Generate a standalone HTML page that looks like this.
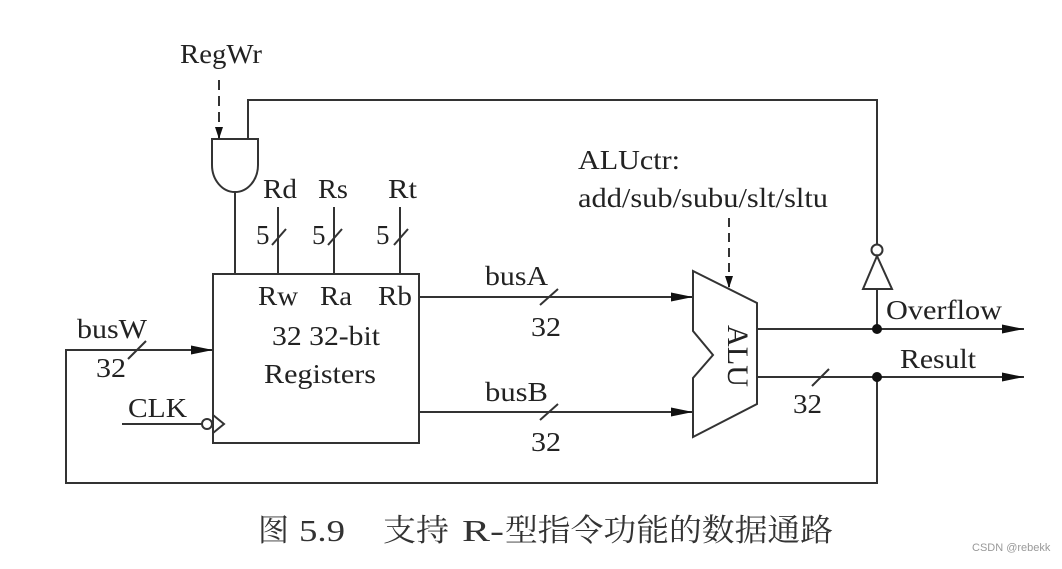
<!DOCTYPE html>
<html><head><meta charset="utf-8"><style>html,body{margin:0;padding:0;background:#fff}</style></head>
<body>
<svg width="1062" height="564" viewBox="0 0 1062 564" xmlns="http://www.w3.org/2000/svg" font-family="'Liberation Serif','Noto Serif CJK SC',serif" fill="#222">
<defs>
<marker id="a" markerWidth="12" markerHeight="8" refX="12" refY="4" orient="auto" markerUnits="userSpaceOnUse"><path d="M0,0 L12,4 L0,8 z" fill="#111"/></marker>
<marker id="b" markerWidth="22" markerHeight="9" refX="22" refY="4.5" orient="auto" markerUnits="userSpaceOnUse"><path d="M0,0 L22,4.5 L0,9 z" fill="#111"/></marker>
</defs>
<g stroke="#333" stroke-width="2" fill="none">
<rect x="213" y="274" width="206" height="169"/>
<path d="M212,139 H258 V165 A23,27 0 0 1 212,165 Z"/>
<line x1="235" y1="192" x2="235" y2="274"/>
<line x1="219" y1="80" x2="219" y2="139" stroke-dasharray="10,6" marker-end="url(#a)"/>
<polyline points="248,139 248,100 877,100 877,244"/>
<line x1="278" y1="207" x2="278" y2="274"/>
<line x1="334" y1="207" x2="334" y2="274"/>
<line x1="400" y1="207" x2="400" y2="274"/>
<line x1="272" y1="245" x2="286" y2="229"/>
<line x1="328" y1="245" x2="342" y2="229"/>
<line x1="394" y1="245" x2="408" y2="229"/>
<line x1="419" y1="297" x2="693" y2="297" marker-end="url(#b)"/>
<line x1="419" y1="412" x2="693" y2="412" marker-end="url(#b)"/>
<line x1="540" y1="305" x2="558" y2="289"/>
<line x1="540" y1="420" x2="558" y2="404"/>
<path d="M693,271 L757,303 V404 L693,437 V378 L713,355 L693,331 Z"/>
<line x1="729" y1="218" x2="729" y2="288" stroke-dasharray="9,6" marker-end="url(#a)"/>
<line x1="757" y1="329" x2="1024" y2="329" marker-end="url(#b)"/>
<line x1="757" y1="377" x2="1024" y2="377" marker-end="url(#b)"/>
<line x1="812" y1="386" x2="829" y2="369"/>
<circle cx="877" cy="250" r="5.5"/>
<path d="M877,256 L863,289 H892 Z"/>
<line x1="877" y1="289" x2="877" y2="329"/>
<polyline points="877,377 877,483 66,483 66,350 213,350" marker-end="url(#b)"/>
<line x1="128" y1="359" x2="146" y2="341"/>
<line x1="122" y1="424" x2="202" y2="424"/>
<circle cx="207" cy="424" r="5"/>
<path d="M213,415 L224,424 L213,433"/>
</g>
<circle cx="877" cy="329" r="5" fill="#111"/>
<circle cx="877" cy="377" r="5" fill="#111"/>
<g font-size="27" fill="#222" lengthAdjust="spacingAndGlyphs">
<text x="180" y="63" textLength="82" lengthAdjust="spacingAndGlyphs">RegWr</text>
<text x="263" y="198" textLength="34" lengthAdjust="spacingAndGlyphs">Rd</text>
<text x="318" y="198" textLength="30" lengthAdjust="spacingAndGlyphs">Rs</text>
<text x="388" y="198" textLength="29" lengthAdjust="spacingAndGlyphs">Rt</text>
<text x="256" y="244">5</text>
<text x="312" y="244">5</text>
<text x="376" y="244">5</text>
<text x="258" y="305" textLength="40" lengthAdjust="spacingAndGlyphs">Rw</text>
<text x="320" y="305" textLength="32" lengthAdjust="spacingAndGlyphs">Ra</text>
<text x="378" y="305" textLength="34" lengthAdjust="spacingAndGlyphs">Rb</text>
<text x="272" y="345" textLength="108" lengthAdjust="spacingAndGlyphs">32 32-bit</text>
<text x="264" y="383" textLength="112" lengthAdjust="spacingAndGlyphs">Registers</text>
<text x="77" y="338" textLength="70" lengthAdjust="spacingAndGlyphs">busW</text>
<text x="96" y="377" textLength="30" lengthAdjust="spacingAndGlyphs">32</text>
<text x="128" y="417" textLength="59" lengthAdjust="spacingAndGlyphs">CLK</text>
<text x="485" y="285" textLength="63" lengthAdjust="spacingAndGlyphs">busA</text>
<text x="531" y="336" textLength="30" lengthAdjust="spacingAndGlyphs">32</text>
<text x="485" y="401" textLength="63" lengthAdjust="spacingAndGlyphs">busB</text>
<text x="531" y="451" textLength="30" lengthAdjust="spacingAndGlyphs">32</text>
<text x="578" y="169" textLength="102" lengthAdjust="spacingAndGlyphs">ALUctr:</text>
<text x="578" y="207" textLength="250" lengthAdjust="spacingAndGlyphs">add/sub/subu/slt/sltu</text>
<text x="886" y="319" textLength="116" lengthAdjust="spacingAndGlyphs">Overflow</text>
<text x="900" y="368" textLength="76" lengthAdjust="spacingAndGlyphs">Result</text>
<text x="793" y="413" textLength="29" lengthAdjust="spacingAndGlyphs">32</text>
<text transform="translate(728,356) rotate(90)" text-anchor="middle" font-size="30" textLength="62" lengthAdjust="spacingAndGlyphs">ALU</text>
</g>
<g font-size="31" fill="#333">
<text x="258" y="541">图</text>
<text x="299" y="541" textLength="46" lengthAdjust="spacingAndGlyphs">5.9</text>
<text x="383" y="541" textLength="66" lengthAdjust="spacingAndGlyphs">支持</text>
<text x="462" y="541" textLength="42" lengthAdjust="spacingAndGlyphs">R-</text>
<text x="505" y="541" textLength="328" lengthAdjust="spacingAndGlyphs">型指令功能的数据通路</text>
</g>
<text x="972" y="551" font-size="11" fill="#999" font-family="'Liberation Sans',sans-serif">CSDN @rebekk</text>
</svg>
</body></html>
